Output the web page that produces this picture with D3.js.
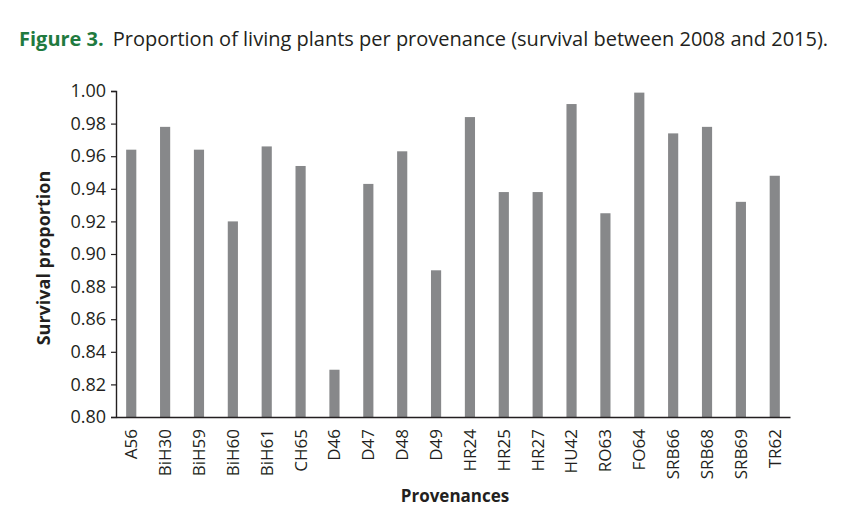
<!DOCTYPE html>
<html>
<head>
<meta charset="utf-8">
<script src="https://cdn.jsdelivr.net/npm/d3@7"></script>
<style>
  body { margin: 0; background: #fff; }
  svg { display: block; }
</style>
</head>
<body>
<div id="chart"></div>
<script>
var provenances = ['A56', 'BiH30', 'BiH59', 'BiH60', 'BiH61', 'CH65', 'D46', 'D47', 'D48', 'D49',
  'HR24', 'HR25', 'HR27', 'HU42', 'RO63', 'FO64', 'SRB66', 'SRB68', 'SRB69', 'TR62'];
var survival = [0.964, 0.978, 0.964, 0.920, 0.966, 0.954, 0.829, 0.943, 0.963, 0.890,
  0.984, 0.938, 0.938, 0.992, 0.925, 0.999, 0.974, 0.978, 0.932, 0.948];
var yTicks = [0.80, 0.82, 0.84, 0.86, 0.88, 0.90, 0.92, 0.94, 0.96, 0.98, 1.00];

var width = 857, height = 521;
var font = "'Open Sans', sans-serif";

var svg = d3.select('#chart').append('svg')
  .attr('width', width)
  .attr('height', height);

// title
var title = svg.append('text')
  .attr('x', 19)
  .attr('y', 46)
  .style('font-family', font)
  .style('font-size', '20px');
title.append('tspan')
  .attr('fill', '#1f7a3f')
  .style('font-weight', 'bold')
  .text('Figure 3.');
title.append('tspan')
  .attr('fill', '#231f20')
  .attr('dx', 9)
  .text('Proportion of living plants per provenance (survival between 2008 and 2015).');

var x = d3.scaleBand()
  .domain(provenances)
  .range([116, 790])
  .paddingInner(0.7)
  .paddingOuter(0.3);

var y = d3.scaleLinear()
  .domain([0.80, 1.00])
  .range([417, 91]);

// bars
svg.selectAll('rect.bar')
  .data(provenances)
  .enter()
  .append('rect')
  .attr('class', 'bar')
  .attr('x', function(d) { return x(d); })
  .attr('width', x.bandwidth())
  .attr('y', function(d, i) { return y(survival[i]); })
  .attr('height', function(d, i) { return y(0.80) - y(survival[i]); })
  .attr('fill', '#87888a');

// y axis
var yAxis = svg.append('g')
  .attr('transform', 'translate(116,0)')
  .call(d3.axisLeft(y).tickValues(yTicks).tickFormat(d3.format('.2f')).tickSize(5).tickPadding(5));
yAxis.select('.domain').attr('stroke', '#231f20').attr('stroke-width', 1.4);
yAxis.selectAll('.tick line').attr('stroke', '#231f20').attr('stroke-width', 1.2);
yAxis.selectAll('text')
  .attr('fill', '#231f20')
  .style('font-family', font)
  .style('font-size', '18px');

// x axis
var xAxis = svg.append('g')
  .attr('transform', 'translate(0,417)')
  .call(d3.axisBottom(x).tickSize(0).tickPadding(0));
xAxis.select('.domain').attr('stroke', '#231f20').attr('stroke-width', 1.4);
xAxis.selectAll('.tick text')
  .attr('fill', '#231f20')
  .attr('transform', 'rotate(-90)')
  .attr('text-anchor', 'end')
  .attr('x', -12)
  .attr('y', 0)
  .attr('dy', '0.35em')
  .style('font-family', font)
  .style('font-size', '17px');

// axis titles
svg.append('text')
  .attr('transform', 'translate(50,258) rotate(-90)')
  .attr('text-anchor', 'middle')
  .attr('fill', '#231f20')
  .style('font-family', font)
  .style('font-size', '18px')
  .style('font-weight', 'bold')
  .text('Survival proportion');

svg.append('text')
  .attr('x', 455)
  .attr('y', 502)
  .attr('text-anchor', 'middle')
  .attr('fill', '#231f20')
  .style('font-family', font)
  .style('font-size', '17px')
  .style('font-weight', 'bold')
  .text('Provenances');
</script>
</body>
</html>
